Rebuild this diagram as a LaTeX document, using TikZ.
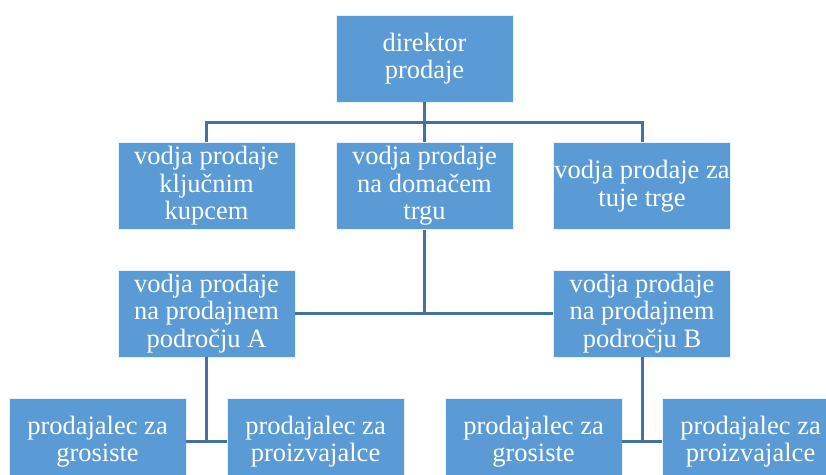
\documentclass[tikz,border=0pt]{standalone}
\usepackage{fontspec}
\setmainfont{Liberation Serif}
\usepackage{tikz}
\usetikzlibrary{calc,positioning}
\definecolor{boxblue}{RGB}{91,155,213}
\definecolor{lineblue}{RGB}{68,114,158}

\begin{document}
\begin{tikzpicture}[x=0.5pt,y=-0.5pt,
        box/.style={fill=boxblue, draw=white!85!boxblue, line width=0.4pt,
            minimum width=88.5pt, minimum height=43.5pt, inner sep=0pt,
            align=center, text=white, font=\fontsize{13.25}{13.75}\selectfont},
        conn/.style={draw=lineblue, line width=1.5pt}]
        \clip (0,0) rectangle (826,475);

        \node[box] (dir) at (424.5,58.5) {direktor\\prodaje};

        \node[box] (kljuc) at (206.5,186) {vodja prodaje\\ključnim\\kupcem};
        \node[box] (doma) at (424.5,186) {vodja prodaje\\na domačem\\trgu};
        \node[box] (tuji) at (642,186) {vodja prodaje za\\tuje trge};

        \node[box] (podA) at (206.5,313.5) {vodja prodaje\\na prodajnem\\področju A};
        \node[box] (podB) at (642,313.5) {vodja prodaje\\na prodajnem\\področju B};

        \node[box] (grosA) at (97.5,441.5) {prodajalec za\\grosiste};
        \node[box] (proA) at (315.5,441.5) {prodajalec za\\proizvajalce};
        \node[box] (grosB) at (533.5,441.5) {prodajalec za\\grosiste};
        \node[box] (proB) at (750.5,441.5) {prodajalec za\\proizvajalce};

        \draw[conn] (dir.south) -- (doma.north);
        \draw[conn] (kljuc.north) -- ++(0,-20) -| (tuji.north);

        \draw[conn] (doma.south) -- (doma.south |- podA.east);
        \draw[conn] (podA.east) -- (podB.west);

        \draw[conn] (podA.south) -- (podA.south |- grosA.east);
        \draw[conn] (grosA.east) -- (proA.west);
        \draw[conn] (podB.south) -- (podB.south |- grosB.east);
        \draw[conn] (grosB.east) -- (proB.west);
    \end{tikzpicture}
\end{document}
